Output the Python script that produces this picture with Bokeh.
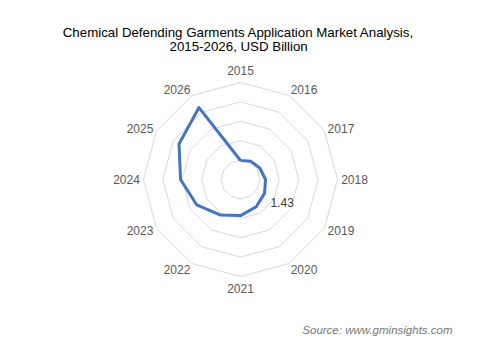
import numpy as np
from bokeh.plotting import figure
from bokeh.core.properties import value
from bokeh.embed import file_html
from bokeh.resources import INLINE

# ---- data ----
years = ["2015", "2016", "2017", "2018", "2019", "2020",
         "2021", "2022", "2023", "2024", "2025", "2026"]
market_values = [0.98, 1.08, 1.16, 1.29, 1.43, 1.62, 1.86, 2.11, 2.61, 3.09, 3.66, 4.28]
ring_levels = [1, 2, 3, 4, 5]
labelled_index = 4
labelled_text = "1.43"
title_lines = ["Chemical Defending  Garments Application Market Analysis,",
               "2015-2026,  USD Billion"]
source_text = "Source: www.gminsights.com"

# ---- layout ----
W, H = 480, 346
S = 19.4          # pixels per value unit
CX, CY = 240, 179  # centre in pixels (from top-left)
FONT = value("Liberation Sans")


def px(xp, yp):
    return (xp - CX) / S, (CY - yp) / S


p = figure(width=W, height=H,
           x_range=(-CX / S, (W - CX) / S),
           y_range=(-(H - CY) / S, CY / S),
           output_backend="svg", toolbar_location=None,
           x_axis_location=None, y_axis_location=None,
           min_border=0)
p.grid.visible = False
p.outline_line_color = None
p.background_fill_color = "white"
p.border_fill_color = "white"

n = len(years)
ang = np.arange(n) * 2 * np.pi / n
sx, cy_ = np.sin(ang), np.cos(ang)

# rings
for lv in ring_levels:
    xs = list(lv * sx) + [lv * sx[0]]
    ys = list(lv * cy_) + [lv * cy_[0]]
    p.line(xs, ys, line_color="#d9d9d9", line_width=1)

# series
vals = np.array(market_values)
xs = list(vals * sx) + [vals[0] * sx[0]]
ys = list(vals * cy_) + [vals[0] * cy_[0]]
p.line(xs, ys, line_color="#4472C4", line_width=3, line_join="round")

# category labels
rmax = max(ring_levels)
lx, ly = [], []
for s_, c_ in zip(sx, cy_):
    r = rmax + 4 / S
    dx = 13 * np.sign(s_) if abs(s_) > 0.1 else 0.0
    dy = 8 * np.sign(c_) * abs(c_) ** 7
    lx.append(r * s_ + dx / S)
    ly.append(r * c_ + dy / S)
p.text(lx, ly, text=years, text_align="center", text_baseline="middle",
       text_font=FONT, text_font_size="12px", text_color="#595959")

# data label
vx = vals[labelled_index] * sx[labelled_index]
vy = vals[labelled_index] * cy_[labelled_index]
p.text([vx + 6 / S], [vy - 9 / S], text=[labelled_text], text_align="left",
       text_baseline="middle", text_font=FONT, text_font_size="12px",
       text_color="#404040")

# title
tx, ty1 = px(240, 31.5)
_, ty2 = px(240, 46)
p.text([tx, tx], [ty1, ty2], text=title_lines, text_align="center",
       text_baseline="middle", text_font=FONT, text_font_size="13.3px",
       text_color="#000000")

# source
sxp, syp = px(452, 329.5)
p.text([sxp], [syp], text=[source_text], text_align="right",
       text_baseline="middle", text_font=FONT, text_font_size="11.5px",
       text_font_style="italic", text_color="#767676")

open("out.html", "w").write(file_html(p, INLINE))
